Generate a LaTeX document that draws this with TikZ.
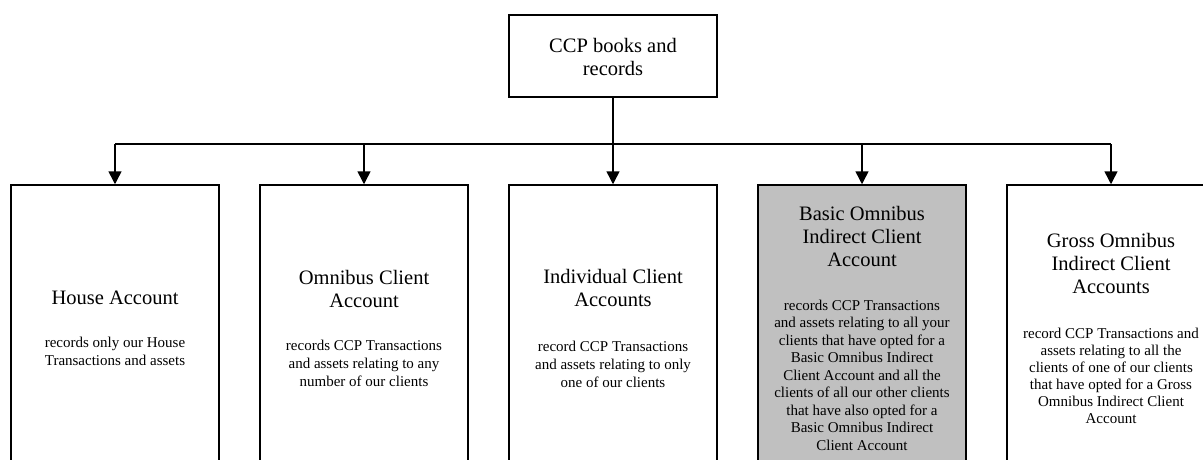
\documentclass[tikz,border=0pt]{standalone}
\usepackage{fontspec}
\setmainfont{Liberation Serif}
\usetikzlibrary{arrows.meta}
\definecolor{boxgray}{HTML}{C0C0C0}
\tikzset{
  box/.style={draw=black, line width=1.5pt, minimum width=208pt, inner sep=0pt},
  acct/.style={box, minimum height=285pt},
  ttl/.style={align=center, inner sep=0pt, font=\fontsize{20.5}{23}\selectfont},
  body/.style={align=center, inner sep=0pt, font=\fontsize{15}{18}\selectfont},
  conn/.style={line width=1.5pt},
  arr/.style={conn, -{Triangle[length=13pt,width=13pt]}}
}
\begin{document}
\begin{tikzpicture}[x=1pt,y=-1pt]
\path[use as bounding box, clip] (0,0) rectangle (1203,459);
\fill[white] (0,0) rectangle (1203,459);
% top box
\node[box, minimum height=82pt] (top) at (613,56) {};
\node[ttl] (toptxt) at (613,56.5) {CCP books and\\records};
% account boxes
\node[acct] (house) at (115,327.5) {};
\node[acct] (omni) at (364,327.5) {};
\node[acct] (indiv) at (613,327.5) {};
\node[acct, fill=boxgray] (basic) at (862,327.5) {};
\node[acct] (gross) at (1111,327.5) {};
% texts
\node[ttl] (houseT) at (115,298) {House Account};
\node[body] (houseB) at (115,351.5) {records only our House\\Transactions and assets};
\node[ttl] (omniT) at (364,288.5) {Omnibus Client\\Account};
\node[body] (omniB) at (364,363) {records CCP Transactions\\and assets relating to any\\number of our clients};
\node[ttl] (indivT) at (613,287.5) {Individual Client\\Accounts};
\node[body] (indivB) at (613,364.5) {record CCP Transactions\\and assets relating to only\\one of our clients};
\node[ttl] (basicT) at (862,236) {Basic Omnibus\\Indirect Client\\Account};
\node[body, font=\fontsize{15}{17.5}\selectfont] (basicB) at (862,375) {records CCP Transactions\\and assets relating to all your\\clients that have opted for a\\Basic Omnibus Indirect\\Client Account and all the\\clients of all our other clients\\that have also opted for a\\Basic Omnibus Indirect\\Client Account};
\node[ttl] (grossT) at (1111,263.5) {Gross Omnibus\\Indirect Client\\Accounts};
\node[body, font=\fontsize{15}{17}\selectfont] (grossB) at (1111,375.5) {record CCP Transactions and\\assets relating to all the\\clients of one of our clients\\that have opted for a Gross\\Omnibus Indirect Client\\Account};
% connectors
\coordinate (bus) at (613,144);
\draw[conn] (house.north |- bus) -- (gross.north |- bus);
\draw[arr] (top.south) -- (indiv.north);
\draw[arr] (house.north |- bus) -- (house.north);
\draw[arr] (omni.north |- bus) -- (omni.north);
\draw[arr] (basic.north |- bus) -- (basic.north);
\draw[arr] (gross.north |- bus) -- (gross.north);
\end{tikzpicture}
\end{document}
